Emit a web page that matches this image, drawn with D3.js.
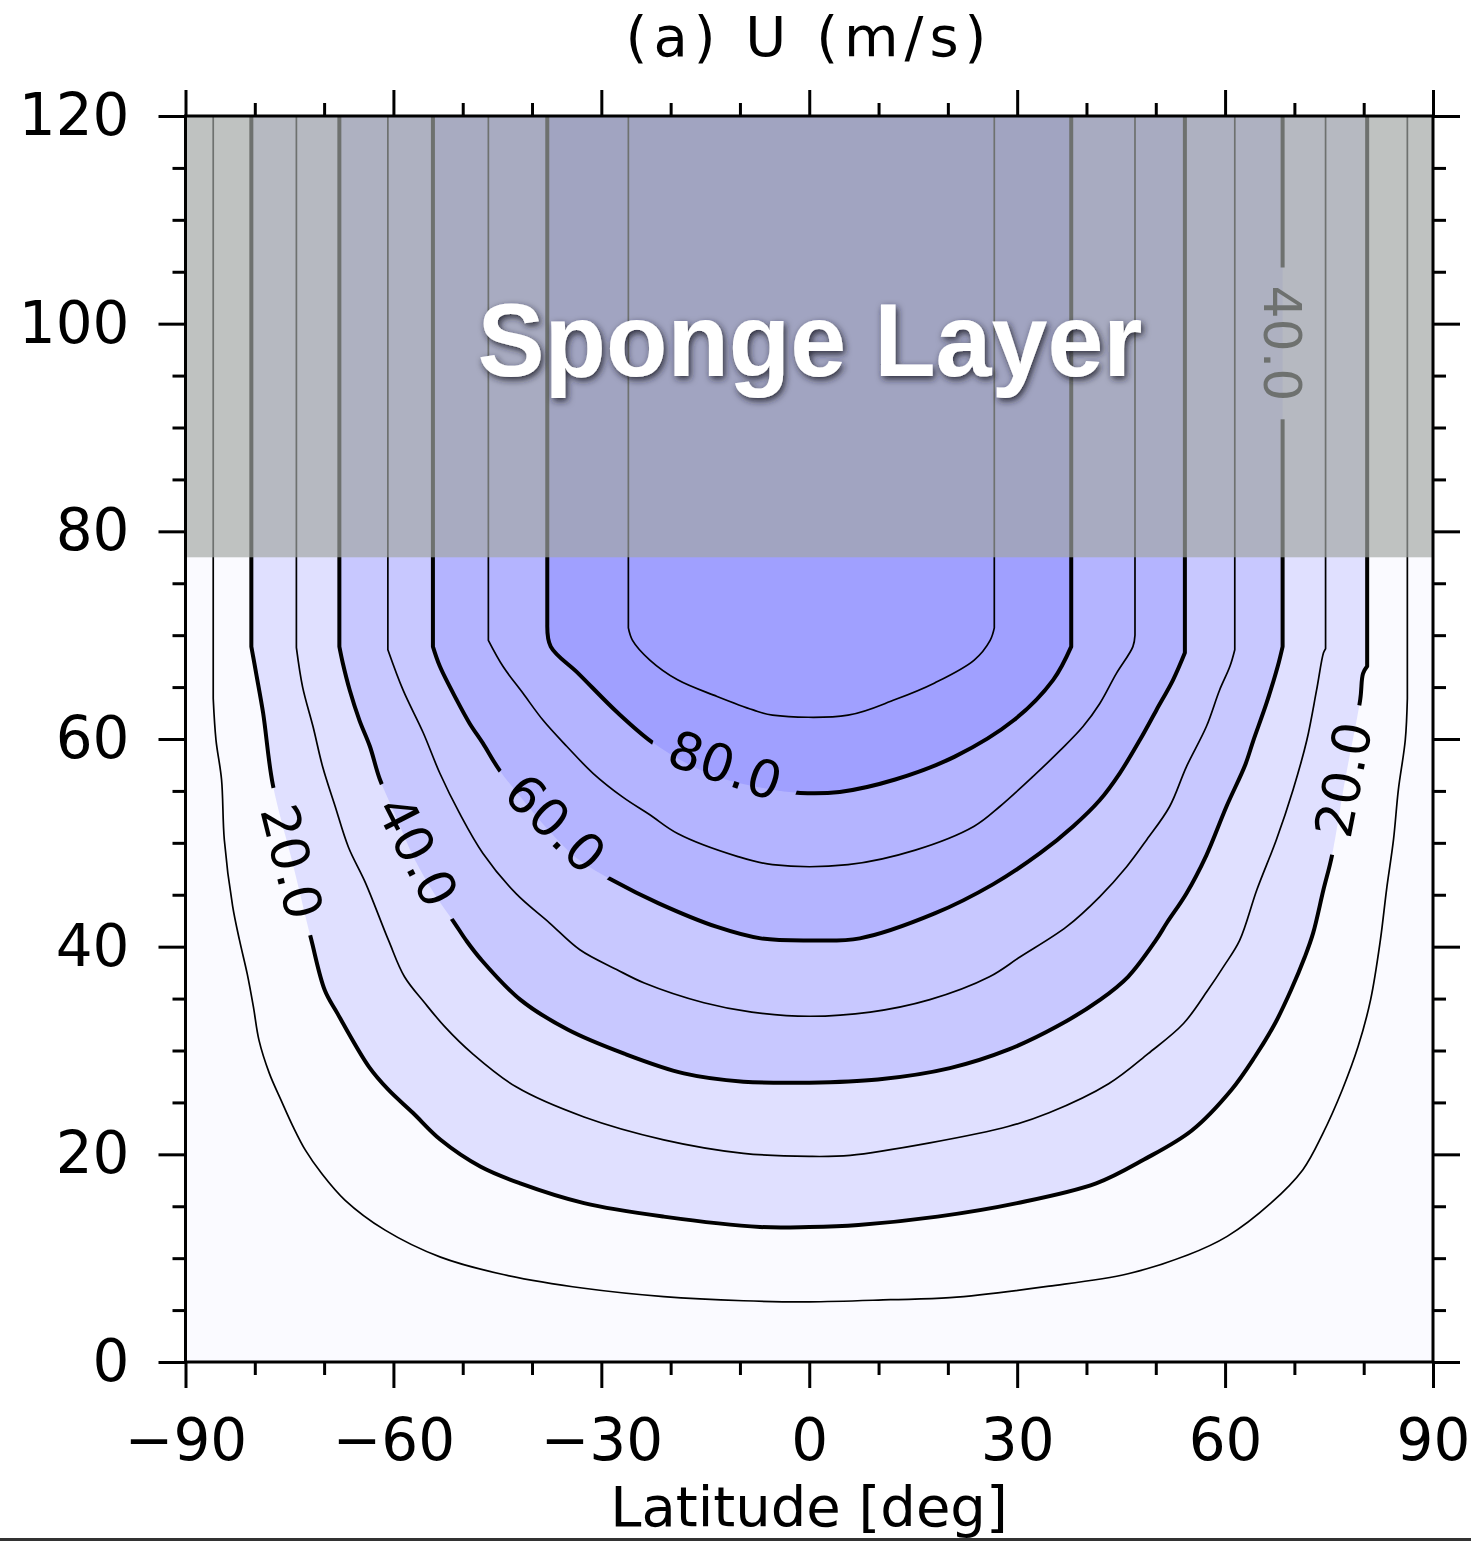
<!DOCTYPE html>
<html>
<head>
<meta charset="utf-8">
<script src="https://cdn.jsdelivr.net/npm/d3@7"></script>
<style>
body { margin: 0; background: #fff; }
svg { display: block; }
text { font-family: "DejaVu Sans", sans-serif; }
</style>
</head>
<body>
<svg id="chart" width="1471" height="1541"></svg>
<script>
// Contour levels of U (m/s), each line is [latitude, height]
const levels = [10, 20, 30, 40, 50, 60, 70, 80, 90];

const u10 = [[-86.0,120],[-86.0,63.9],[-85.6,59.9],[-84.8,56.1],[-84.4,50.3],[-83.2,43.9],[-82.2,40.6],[-81.1,37.4],[-80.2,34.2],[-79.4,31.0],[-77.9,27.8],[-76.2,25.2],[-74.5,22.7],[-72.7,20.4],[-70.4,18.2],[-67.0,15.6],[-61.2,12.7],[-53.2,10.1],[-44.0,8.4],[-32.5,7.1],[-21.0,6.3],[-9.5,5.9],[0,5.8],[11.7,6.0],[20.3,6.2],[34.6,7.3],[46.0,8.5],[54.6,10.3],[60.3,12.1],[66.6,15.3],[71.2,18.5],[74.1,22.0],[76.9,26.2],[79.2,30.4],[81.0,34.9],[82.4,40.6],[83.3,45.5],[84.3,50.3],[85.0,55.1],[86.0,59.9],[86.3,63.9],[86.3,120]];

const u20 = [[-80.5,120],[-80.5,68.9],[-79.8,66.3],[-78.8,62.5],[-77.4,55.6],[-74.6,48.2],[-71.9,40.8],[-69.9,35.8],[-68.1,33.6],[-63.5,28.4],[-60.7,26.2],[-57.2,24.0],[-53.2,21.4],[-47.4,18.8],[-41.7,17.2],[-32.5,15.3],[-21.0,14.0],[-7.1,13.0],[0,13.0],[7.1,13.2],[18.5,14.0],[30.0,15.3],[41.4,17.2],[48.3,19.5],[55.2,22.3],[60.9,26.2],[64.3,29.4],[67.2,32.6],[69.5,35.8],[71.5,39.0],[72.7,41.3],[74.2,45.5],[75.4,48.7],[77.3,56.0],[79.5,63.8],[79.9,66.3],[80.5,67.0],[80.5,120]];

const u30 = [[-74.0,120],[-74.0,68.8],[-73.1,65.0],[-71.6,61.2],[-70.2,57.3],[-68.4,53.5],[-66.5,49.6],[-64.0,46.1],[-60.7,40.6],[-58.4,37.1],[-55.5,34.6],[-52.6,32.3],[-48.6,29.7],[-42.3,26.5],[-32.5,23.6],[-21.0,21.4],[-9.5,20.1],[0,19.8],[5.9,19.9],[17.4,21.1],[28.8,22.7],[34.6,24.0],[43.2,26.8],[48.9,29.7],[54.0,32.6],[57.5,35.8],[59.8,38.1],[62.1,40.6],[64.6,45.5],[67.4,50.3],[69.8,55.1],[71.8,59.9],[73.2,64.7],[74.2,68.3],[74.5,68.7],[74.5,120]];

const u40 = [[-67.8,120],[-67.8,68.9],[-67.3,67.3],[-66.3,64.7],[-64.9,61.8],[-63.4,59.3],[-62.0,56.2],[-59.8,52.8],[-57.0,48.5],[-54.0,45.0],[-51.2,42.3],[-49.5,40.6],[-47.4,38.8],[-41.7,34.9],[-34.8,32.0],[-26.7,29.7],[-18.1,27.8],[-9.5,27.0],[0,26.9],[9.9,27.2],[20.3,28.3],[28.8,30.1],[35.7,32.3],[42.0,34.9],[46.0,37.1],[50.0,40.6],[51.6,42.3],[54.4,45.1],[57.3,48.8],[60.2,53.5],[62.9,57.5],[64.1,59.9],[66.0,63.5],[67.6,67.0],[68.3,68.9],[68.3,120]];

const u50 = [[-60.8,120],[-60.8,68.6],[-58.6,64.7],[-55.7,60.6],[-53.3,56.7],[-50.5,52.9],[-47.1,49.0],[-42.3,45.1],[-37.5,42.3],[-33.1,39.7],[-27.8,37.8],[-23.8,36.5],[-15.2,34.6],[-8.3,33.7],[0,33.3],[8.8,33.7],[17.4,34.9],[26.0,37.1],[30.4,39.0],[37.1,41.9],[41.9,44.8],[45.8,47.7],[48.7,50.3],[52.0,53.5],[54.4,57.3],[57.3,61.2],[59.2,64.7],[60.7,67.0],[61.4,68.6],[61.4,120]];

const u60 = [[-54.3,120],[-54.3,68.9],[-53.3,67.0],[-50.9,63.8],[-49.0,61.5],[-47.1,59.6],[-44.7,57.0],[-41.5,54.3],[-38.0,51.5],[-33.5,48.5],[-28.1,46.3],[-21.8,44.2],[-13.3,41.9],[-7.0,40.8],[0,40.6],[7.3,40.8],[18.1,43.2],[26.5,46.0],[33.3,49.0],[38.1,51.6],[41.9,54.1],[44.8,56.7],[47.7,59.9],[50.1,62.8],[52.5,65.7],[54.2,68.3],[54.2,120]];

const u70 = [[-46.3,120],[-46.3,69.5],[-44.2,67.0],[-41.3,64.4],[-38.4,61.8],[-35.0,59.3],[-31.2,56.7],[-26.9,54.4],[-23.0,52.7],[-19.0,50.9],[-10.4,48.7],[-5.3,47.9],[5.6,47.9],[15.3,49.3],[23.8,51.6],[27.5,53.5],[32.3,56.4],[36.2,58.9],[39.5,61.2],[41.9,63.4],[44.3,66.3],[46.7,68.9],[47.0,70.0],[47.0,120]];

const u80 = [[-37.8,120],[-37.8,71.0],[-37.3,68.9],[-33.3,66.3],[-27.6,62.5],[-22.7,59.7],[-17.5,57.6],[-12.5,56.2],[-6.0,55.2],[-1.3,54.8],[4.4,54.9],[12.4,56.1],[21.0,58.3],[29.5,61.8],[35.2,65.7],[37.8,68.9],[37.8,120]];

const u90 = [[-26.1,120],[-26.1,70.7],[-25.5,69.5],[-23.0,67.6],[-19.0,65.7],[-13.3,64.1],[-8.1,62.8],[-5.3,62.3],[5.6,62.3],[12.4,63.8],[18.1,65.4],[23.8,67.6],[26.1,69.5],[26.7,70.7],[26.7,120]];

const contours = [u10, u20, u30, u40, u50, u60, u70, u80, u90];

// shading steps every 20 m/s
const fillLevels = [20, 40, 60, 80];
const fillColors = ["#e0e0ff", "#c8c8ff", "#b4b4ff", "#a0a0ff"];
const baseColor = "#fafaff";

// axis ticks
const latTicks = [-90, -60, -30, 0, 30, 60, 90];
const latMinor = d3.range(-90, 91, 10).filter(v => !latTicks.includes(v));
const zTicks = [0, 20, 40, 60, 80, 100, 120];
const zMinor = d3.range(0, 121, 5).filter(v => !zTicks.includes(v));

// sponge layer base height
const spongeBottom = 77.5;

// inline contour labels (level, where, angle along the line)
const contourLabels = [
  {level: 20, lat: -74.6, z: 48.2, angle: 76},
  {level: 40, lat: -56.5, z: 49.2, angle: 63},
  {level: 60, lat: -36.6, z: 51.9, angle: 44},
  {level: 80, lat: -12.1, z: 57.5, angle: 19},
  {level: 20, lat: 77.0, z: 56.1, angle: -79},
  {level: 40, lat: 68.3, z: 98.1, angle: 90}
];

const svg = d3.select("#chart"),
  x = d3.scaleLinear().domain([-90, 90]).range([185.5, 1433]),
  y = d3.scaleLinear().domain([0, 120]).range([1362, 116]),
  smooth = d3.line().x(d => x(d[0])).y(d => y(d[1])).curve(d3.curveCatmullRom.alpha(0.5)),
  // straight vertical legs at both ends, smooth in between
  line = pts => {
    const a = pts[0], b = pts[pts.length - 1];
    return `M${x(a[0])},${y(a[1])}L` + smooth(pts.slice(1, -1)).slice(1) + `L${x(b[0])},${y(b[1])}`;
  };

const defs = svg.append("defs");
defs.append("clipPath").attr("id", "plotclip")
  .append("rect")
  .attr("x", x(-90)).attr("y", y(120))
  .attr("width", x(90) - x(-90)).attr("height", y(0) - y(120));

const shadow = defs.append("filter").attr("id", "shadow")
  .attr("x", "-10%").attr("y", "-30%").attr("width", "120%").attr("height", "160%");
shadow.append("feDropShadow")
  .attr("dx", 2).attr("dy", 3).attr("stdDeviation", 3.5)
  .attr("flood-color", "#1a1a2a").attr("flood-opacity", 0.9);

const mask = defs.append("mask").attr("id", "labelgaps")
  .attr("maskUnits", "userSpaceOnUse")
  .attr("x", 0).attr("y", 0).attr("width", 1471).attr("height", 1541);
mask.append("rect").attr("width", 1471).attr("height", 1541).attr("fill", "white");

const plot = svg.append("g").attr("clip-path", "url(#plotclip)");

// background (0-20 band)
plot.append("rect")
  .attr("x", x(-90)).attr("y", y(120))
  .attr("width", x(90) - x(-90)).attr("height", y(0) - y(120))
  .attr("fill", baseColor);

// filled bands, inner ones painted on top
fillLevels.forEach((lv, i) => {
  plot.append("path")
    .attr("d", line(contours[levels.indexOf(lv)]) + "Z")
    .attr("fill", fillColors[i]);
});

// labels first so their size can cut the gaps in the lines
const labelG = plot.append("g");
contourLabels.forEach(d => {
  const tr = `translate(${x(d.lat)},${y(d.z)}) rotate(${d.angle})`;
  const t = labelG.append("text")
    .attr("transform", tr)
    .attr("text-anchor", "middle")
    .attr("dy", "0.36em")
    .style("font-size", "52px")
    .attr("fill", "#000")
    .text(d3.format(".1f")(d.level));
  const w = t.node().getComputedTextLength() + 36;
  mask.append("rect")
    .attr("transform", tr)
    .attr("x", -w / 2).attr("y", -22)
    .attr("width", w).attr("height", 44)
    .attr("fill", "black");
});

// contour lines, thick on multiples of 20
plot.append("g").attr("mask", "url(#labelgaps)")
  .selectAll("path")
  .data(contours)
  .join("path")
  .attr("d", line)
  .attr("fill", "none")
  .attr("stroke", "#000")
  .attr("stroke-linejoin", "round")
  .attr("stroke-width", (d, i) => levels[i] % 20 === 0 ? 4 : 1.7);

labelG.raise();

// sponge layer
plot.append("rect")
  .attr("x", x(-90)).attr("y", y(120))
  .attr("width", x(90) - x(-90)).attr("height", y(spongeBottom) - y(120))
  .attr("fill", "#a2a6a4")
  .attr("fill-opacity", 0.68);

svg.append("text")
  .attr("x", 810).attr("y", 376)
  .attr("text-anchor", "middle")
  .attr("textLength", 665)
  .attr("lengthAdjust", "spacingAndGlyphs")
  .attr("filter", "url(#shadow)")
  .style("font-family", "'Liberation Sans', Arial, sans-serif")
  .style("font-weight", "bold")
  .style("font-size", "103px")
  .attr("fill", "#fff")
  .text("Sponge Layer");

// axes
const styleAxis = g => {
  g.select(".domain").remove();
  g.selectAll(".tick line").attr("stroke", "#000").attr("stroke-width", 3);
  g.selectAll(".tick text").attr("fill", "#000").style("font-size", "58px");
};

svg.append("g").attr("transform", `translate(0,${y(0)})`)
  .call(d3.axisBottom(x).tickValues(latTicks).tickSize(26).tickPadding(31).tickFormat(d3.format("d")))
  .call(styleAxis);
svg.append("g").attr("transform", `translate(0,${y(0)})`)
  .call(d3.axisBottom(x).tickValues(latMinor).tickSize(13).tickFormat(""))
  .call(styleAxis);
svg.append("g").attr("transform", `translate(0,${y(120)})`)
  .call(d3.axisTop(x).tickValues(latTicks).tickSize(26).tickFormat(""))
  .call(styleAxis);
svg.append("g").attr("transform", `translate(0,${y(120)})`)
  .call(d3.axisTop(x).tickValues(latMinor).tickSize(13).tickFormat(""))
  .call(styleAxis);

svg.append("g").attr("transform", `translate(${x(-90)},0)`)
  .call(d3.axisLeft(y).tickValues(zTicks).tickSize(27).tickPadding(29).tickFormat(d3.format("d")))
  .call(styleAxis);
svg.append("g").attr("transform", `translate(${x(-90)},0)`)
  .call(d3.axisLeft(y).tickValues(zMinor).tickSize(13).tickFormat(""))
  .call(styleAxis);
svg.append("g").attr("transform", `translate(${x(90)},0)`)
  .call(d3.axisRight(y).tickValues(zTicks).tickSize(27).tickFormat(""))
  .call(styleAxis);
svg.append("g").attr("transform", `translate(${x(90)},0)`)
  .call(d3.axisRight(y).tickValues(zMinor).tickSize(13).tickFormat(""))
  .call(styleAxis);

// frame
svg.append("rect")
  .attr("x", x(-90)).attr("y", y(120))
  .attr("width", x(90) - x(-90)).attr("height", y(0) - y(120))
  .attr("fill", "none").attr("stroke", "#000").attr("stroke-width", 3);

// titles
svg.append("text")
  .attr("x", 809).attr("y", 56)
  .attr("text-anchor", "middle")
  .style("font-size", "56px")
  .style("letter-spacing", "6px")
  .text("(a) U (m/s)");

svg.append("text")
  .attr("x", 809).attr("y", 1526)
  .attr("text-anchor", "middle")
  .style("font-size", "56px")
  .text("Latitude [deg]");

// bottom edge line of the figure
svg.append("rect")
  .attr("x", 0).attr("y", 1538).attr("width", 1471).attr("height", 3)
  .attr("fill", "#333");
</script>
</body>
</html>
